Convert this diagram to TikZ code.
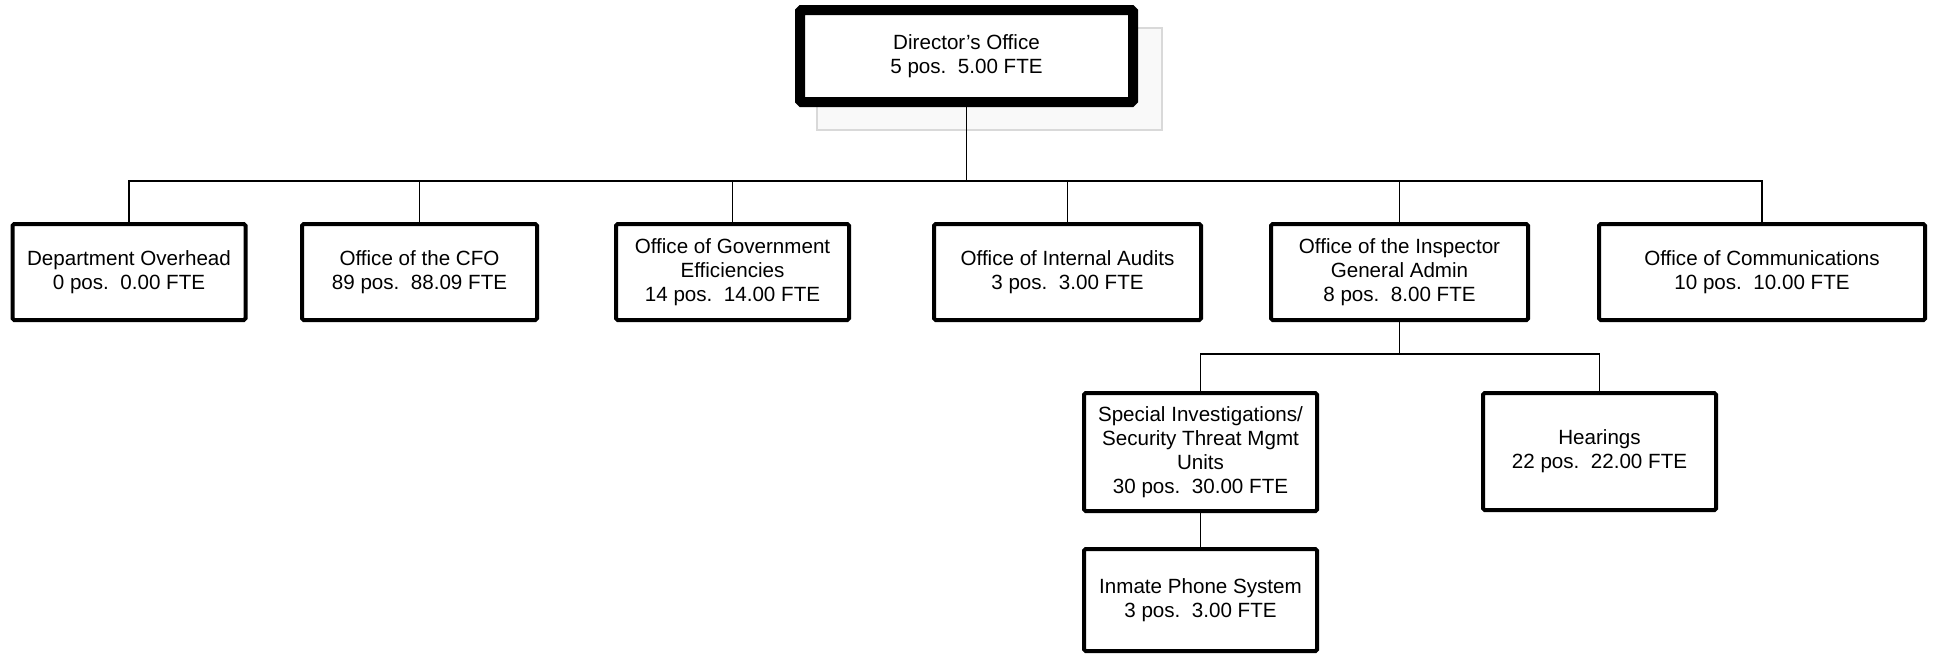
\documentclass[tikz,border=0pt]{standalone}
\usepackage{fontspec}
\setmainfont{Liberation Sans}
\begin{document}
\begin{tikzpicture}[x=0.5pt, y=-0.5pt,
		unit/.style={draw, fill=white, line width=2pt, rounded corners=0.8pt, align=center, inner sep=0pt, font=\fontsize{10.3}{12}\selectfont, minimum width=116.5pt, minimum height=48pt},
		head/.style={unit, line width=5pt, minimum width=166.5pt, minimum height=46pt},
		link/.style={line width=0.8pt}]
		\useasboundingbox (0,0) rectangle (1935,655);
		
		\fill[gray!5, draw=gray!30, line width=0.6pt] (817,28) rectangle (1162,130);
		\node[head] (dir) at (966.5,56) {Director's Office\\5 pos.~~5.00 FTE};
		
		\node[unit] (ovh) at (129,272) {Department Overhead\\0 pos.~~0.00 FTE};
		\node[unit, minimum width=117.5pt] (cfo) at (419.5,272) {Office of the CFO\\89 pos.~~88.09 FTE};
		\node[unit] (oge) at (732.5,272) {Office of Government\\Efficiencies\\14 pos.~~14.00 FTE};
		\node[unit, minimum width=133.5pt] (aud) at (1067.5,272) {Office of Internal Audits\\3 pos.~~3.00 FTE};
		\node[unit, minimum width=128.5pt] (oig) at (1399.5,272) {Office of the Inspector\\General Admin\\8 pos.~~8.00 FTE};
		\node[unit, minimum width=163pt] (com) at (1762,272) {Office of Communications\\10 pos.~~10.00 FTE};
		
		\node[unit, minimum height=59pt] (sit) at (1200.5,452) {Special Investigations/\\Security Threat Mgmt\\Units\\30 pos.~~30.00 FTE};
		\node[unit, minimum height=58.5pt] (hear) at (1599.5,451.5) {Hearings\\22 pos.~~22.00 FTE};
		\node[unit, minimum height=51pt] (phone) at (1200.5,600) {Inmate Phone System\\3 pos.~~3.00 FTE};
		
		\coordinate (bus) at (966.5,181);
		\coordinate (sub) at (1399.5,354);
		
		\draw[link] (dir) -- (bus);
		\foreach \n in {ovh,cfo,oge,aud,oig,com}
			\draw[link] (\n.north) |- (bus);
		\draw[link] (oig) -- (sub);
		\draw[link] (sit.north) |- (sub);
		\draw[link] (hear.north) |- (sub);
		\draw[link] (sit) -- (phone);
	\end{tikzpicture}
\end{document}
